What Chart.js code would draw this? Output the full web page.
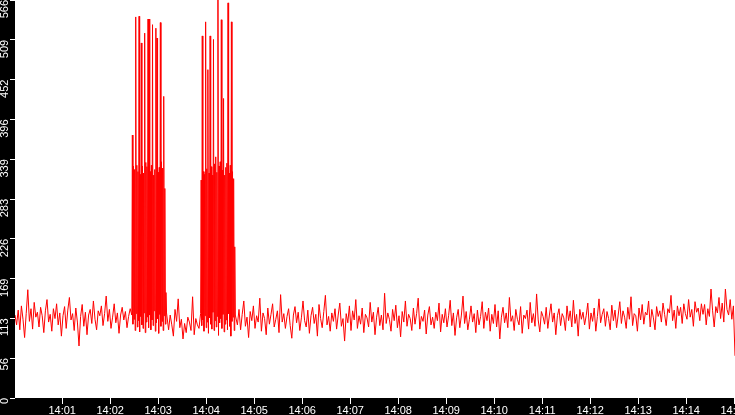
<!DOCTYPE html>
<html>
<head>
<meta charset="utf-8">
<script src="https://cdn.jsdelivr.net/npm/chart.js@4"></script>
<style>
html,body{margin:0;padding:0;background:#000;overflow:hidden;}
#wrap{width:735px;height:415px;}
</style>
</head>
<body>
<div id="wrap"><canvas id="c" width="735" height="415"></canvas></div>
<script>
// ---- data (seconds after 14:00:00, values) ----
const segStarts = [1, 147, 193, 233, 279];
const segSteps  = [2, 0.7, 2, 0.7, 2];

const baselineA = [
118,104,125,97,131,112,86,120,154,109,
127,98,136,115,122,101,129,117,93,124,
140,108,119,95,127,113,134,104,121,88,
117,130,99,125,143,111,120,96,128,108,
74,116,133,102,122,90,118,126,106,138,
112,97,124,117,131,103,120,145,109,126,
99,115,134,107,121,92,118,129,111,123,
100,116,127
];
const burst1 = [
118,374, 105,330, 112,325, 96,542, 120,331, 101,322, 110,543, 94,318,
116,505, 104,330, 99,320, 121,519, 93,335, 108,329, 115,539, 100,539,
118,322, 97,331, 111,531, 103,317, 124,325, 95,526, 107,512, 113,321,
92,328, 119,534, 102,336, 109,327, 96,429, 117,298, 105,150, 121
];
const baselineC = [
97,118,104,88,126,109,141,100,112,84,
106,93,115,108,96,144,90,113,104,99
];
const burst2 = [
120,310, 103,515, 111,322, 95,318, 117,535, 100,326, 108,467, 92,320,
114,515, 105,329, 98,317, 122,510, 96,333, 110,343, 101,321, 116,566.1,
89,330, 107,336, 113,538, 99,324, 119,426, 94,317, 105,328, 111,334,
97,562, 120,320, 102,331, 88,535, 109,322, 115,312, 96,215, 118
];
const baselineE = [
104,126,97,119,138,102,115,86,123,110,131,99,
117,108,142,95,121,113,90,128,105,119,134,101,
112,124,93,147,108,120,99,116,127,103,85,118,
130,107,122,96,114,138,110,101,125,92,117,129,
106,119,88,133,113,100,123,146,104,116,95,121,
109,127,98,118,135,102,113,81,120,107,131,96,
124,111,140,99,117,105,128,93,119,114,101,136,
108,122,90,115,129,103,118,97,149,106,121,112,
95,126,110,132,100,117,87,123,108,138,102,119,
113,96,128,105,120,142,98,116,109,125,91,118,
130,104,115,99,122,110,135,94,119,107,127,101,
117,139,103,121,89,114,126,100,118,145,106,123,
97,112,131,108,120,93,125,104,116,137,99,122,
110,128,95,119,106,133,101,124,84,115,129,107,
121,100,143,109,117,96,126,112,104,130,92,118,
113,125,98,136,107,120,102,148,111,94,123,116,
105,129,99,118,134,108,121,90,117,127,103,120,
114,96,131,110,124,101,139,106,119,88,126,112,
122,104,117,135,98,121,109,128,95,116,141,107,
119,127,102,123,113,97,132,110,125,100,118,137,
106,124,115,99,129,112,144,103,120,117,95,128,
111,133,105,122,118,138,101,126,114,97,130,116,
124,108,135,119,103,127,121,146,110,125,99,131,
117,129,106,134,120,112,140,115,126,102,137,122,
128,110,134,119,133,104,127,116,155,124,101,130,
121,143,113,135,108,155,126,118,140,112,131,60
];
const segments = [baselineA, burst1, baselineC, burst2, baselineE];

const xMin = 1, xMax = 901;
const xTickLabels = ['14:01','14:02','14:03','14:04','14:05','14:06','14:07','14:08','14:09','14:10','14:11','14:12','14:13','14:14','14:15'];
const yMax = 566.1;
const yTickLabels = ['0','56','113','169','226','283','339','396','452','509','566'];

// ---- build points ----
const points = [];
segments.forEach((seg, s) => {
  seg.forEach((v, i) => points.push({x: segStarts[s] + i * segSteps[s], y: v}));
});

const bgPlugin = {
  id: 'bg',
  beforeDraw(chart) {
    const {ctx, chartArea: a, width, height} = chart;
    ctx.save();
    ctx.fillStyle = '#000';
    ctx.fillRect(0, 0, width, height);
    ctx.fillStyle = '#fff';
    ctx.fillRect(a.left, a.top, a.right - a.left, a.bottom - a.top);
    ctx.restore();
  }
};

function noPad(s) {
  s.paddingTop = 0; s.paddingBottom = 0; s.paddingLeft = 0; s.paddingRight = 0;
}

const tickFont = {family: '"Liberation Sans", Arial, sans-serif', size: 11};

new Chart(document.getElementById('c'), {
  type: 'line',
  data: {
    datasets: [{
      data: points,
      borderColor: '#ff0000',
      borderWidth: 1,
      pointRadius: 0,
      tension: 0,
      fill: false
    }]
  },
  options: {
    responsive: false,
    animation: false,
    devicePixelRatio: 1,
    layout: {padding: 0, autoPadding: false},
    plugins: {legend: {display: false}, tooltip: {enabled: false}},
    scales: {
      x: {
        type: 'linear',
        min: xMin,
        max: xMax,
        offset: false,
        afterFit(s) { s.height = 17; noPad(s); },
        afterBuildTicks(s) { s.ticks = xTickLabels.map((_, i) => ({value: (i + 1) * 60})); },
        ticks: {
          color: '#fff',
          font: tickFont,
          padding: 0,
          maxRotation: 0,
          minRotation: 0,
          autoSkip: false,
          callback: (v, i) => xTickLabels[i]
        },
        grid: {drawOnChartArea: false, color: '#fff', tickLength: 6, tickWidth: 1},
        border: {display: false}
      },
      y: {
        type: 'linear',
        min: 0,
        max: yMax,
        afterFit(s) { s.width = 15; noPad(s); },
        afterBuildTicks(s) { s.ticks = yTickLabels.map((_, i) => ({value: i * yMax / 10})); },
        ticks: {
          color: '#fff',
          font: tickFont,
          padding: 5,
          minRotation: 90,
          maxRotation: 90,
          autoSkip: false,
          callback: (v, i) => yTickLabels[i]
        },
        grid: {drawOnChartArea: false, color: '#fff', tickLength: 5, tickWidth: 1},
        border: {display: false}
      }
    }
  },
  plugins: [bgPlugin]
});
</script>
</body>
</html>
